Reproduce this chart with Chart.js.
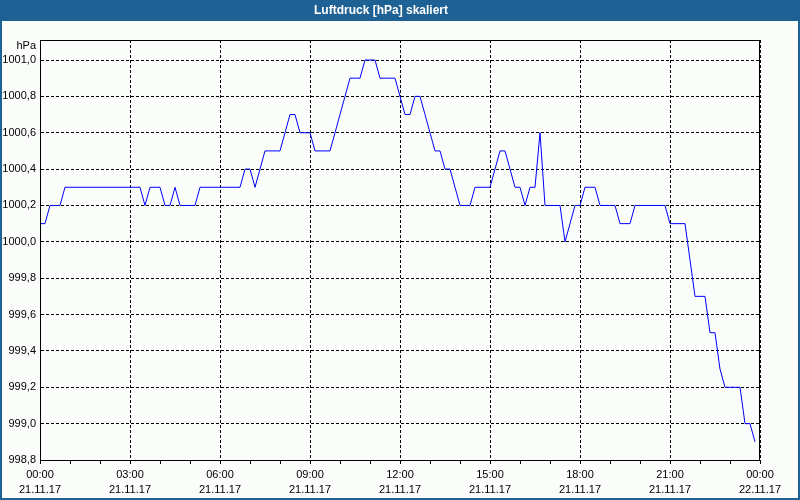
<!DOCTYPE html>
<html>
<head>
<meta charset="utf-8">
<title>Luftdruck [hPa] skaliert</title>
<script src="https://cdn.jsdelivr.net/npm/chart.js@4/dist/chart.umd.min.js"></script>
<style>
    html, body { margin: 0; padding: 0; background: #fff; }
    canvas { display: block; }
</style>
</head>
<body>
<canvas id="chart" width="800" height="500"></canvas>
<script>
// Luftdruck, one value every 10 minutes (00:00 .. 23:50), six per row = one hour
const pressure = [
    1000.1, 1000.1, 1000.2, 1000.2, 1000.2, 1000.3,
    1000.3, 1000.3, 1000.3, 1000.3, 1000.3, 1000.3,
    1000.3, 1000.3, 1000.3, 1000.3, 1000.3, 1000.3,
    1000.3, 1000.3, 1000.3, 1000.2, 1000.3, 1000.3,
    1000.3, 1000.2, 1000.2, 1000.3, 1000.2, 1000.2,
    1000.2, 1000.2, 1000.3, 1000.3, 1000.3, 1000.3,
    1000.3, 1000.3, 1000.3, 1000.3, 1000.3, 1000.4,
    1000.4, 1000.3, 1000.4, 1000.5, 1000.5, 1000.5,
    1000.5, 1000.6, 1000.7, 1000.7, 1000.6, 1000.6,
    1000.6, 1000.5, 1000.5, 1000.5, 1000.5, 1000.6,
    1000.7, 1000.8, 1000.9, 1000.9, 1000.9, 1001.0,
    1001.0, 1001.0, 1000.9, 1000.9, 1000.9, 1000.9,
    1000.8, 1000.7, 1000.7, 1000.8, 1000.8, 1000.7,
    1000.6, 1000.5, 1000.5, 1000.4, 1000.4, 1000.3,
    1000.2, 1000.2, 1000.2, 1000.3, 1000.3, 1000.3,
    1000.3, 1000.4, 1000.5, 1000.5, 1000.4, 1000.3,
    1000.3, 1000.2, 1000.3, 1000.3, 1000.6, 1000.2,
    1000.2, 1000.2, 1000.2, 1000.0, 1000.1, 1000.2,
    1000.2, 1000.3, 1000.3, 1000.3, 1000.2, 1000.2,
    1000.2, 1000.2, 1000.1, 1000.1, 1000.1, 1000.2,
    1000.2, 1000.2, 1000.2, 1000.2, 1000.2, 1000.2,
    1000.1, 1000.1, 1000.1, 1000.1, 999.9, 999.7,
    999.7, 999.7, 999.5, 999.5, 999.3, 999.2,
    999.2, 999.2, 999.2, 999.0, 999.0, 998.9
];
const samplesPerHour = 6;

// x axis labels, every 3 hours
const timeLabels = ['00:00', '03:00', '06:00', '09:00', '12:00', '15:00', '18:00', '21:00', '00:00'];
const dateLabels = ['21.11.17', '21.11.17', '21.11.17', '21.11.17', '21.11.17', '21.11.17', '21.11.17', '21.11.17', '22.11.17'];

// y axis ticks
const yTicks = [998.8, 999.0, 999.2, 999.4, 999.6, 999.8, 1000.0, 1000.2, 1000.4, 1000.6, 1000.8, 1001.0];
const yMin = 998.8;
const yMax = 1001.11;
const yUnit = 'hPa';

const points = pressure.map((v, i) => ({ x: i / samplesPerHour, y: v }));

// background, title band, frame and unit label
const framePlugin = {
    id: 'frame',
    beforeDraw(chart) {
        const ctx = chart.ctx;
        ctx.save();
        ctx.fillStyle = '#fafdfa';
        ctx.fillRect(0, 0, chart.width, chart.height);
        ctx.fillStyle = '#1e6295';
        ctx.fillRect(0, 0, chart.width, 21);
        ctx.fillRect(0, 0, 2, chart.height);
        ctx.fillRect(chart.width - 2, 0, 2, chart.height);
        ctx.fillRect(0, chart.height - 2, chart.width, 2);
        ctx.restore();
    },
    afterDraw(chart) {
        const ctx = chart.ctx;
        const a = chart.chartArea;
        ctx.save();
        ctx.strokeStyle = '#000';
        ctx.lineWidth = 1;
        ctx.strokeRect(Math.round(a.left) + 0.5, Math.round(a.top) + 0.5,
            Math.round(a.right - a.left) - 1, Math.round(a.bottom - a.top));
        ctx.fillStyle = '#000';
        ctx.font = '11px "Liberation Sans", Arial, sans-serif';
        ctx.textAlign = 'right';
        ctx.textBaseline = 'middle';
        ctx.fillText(yUnit, a.left - 4, a.top + 6);
        ctx.restore();
    }
};

const axisFont = { family: '"Liberation Sans", Arial, sans-serif', size: 11, lineHeight: 1.35 };

new Chart(document.getElementById('chart').getContext('2d'), {
    type: 'line',
    data: {
        datasets: [{
            label: 'Luftdruck',
            data: points,
            borderColor: '#0000ff',
            borderWidth: 1,
            pointRadius: 0,
            tension: 0,
            fill: false
        }]
    },
    options: {
        responsive: false,
        animation: false,
        layout: { padding: { left: 2, right: 40, top: 0, bottom: 2 } },
        plugins: {
            legend: { display: false },
            tooltip: { enabled: false },
            title: {
                display: true,
                text: 'Luftdruck [hPa] skaliert',
                color: '#ffffff',
                font: { family: '"Liberation Sans", Arial, sans-serif', size: 12, weight: 'bold', lineHeight: 1.2 },
                padding: { top: 3, bottom: 22.6 }
            }
        },
        scales: {
            x: {
                type: 'linear',
                min: 0,
                max: 24,
                ticks: {
                    stepSize: 1,
                    autoSkip: false,
                    maxRotation: 0,
                    padding: 4,
                    color: '#000',
                    font: axisFont,
                    callback: (value) => value % 3 === 0 ? [timeLabels[value / 3], dateLabels[value / 3]] : ''
                },
                grid: {
                    color: (c) => (c.tick && c.tick.value % 3 === 0) ? '#000' : 'rgba(0,0,0,0)',
                    tickColor: '#000',
                    tickLength: 4,
                    lineWidth: 1
                },
                border: { display: true, color: '#000', dash: [3, 2] },
                afterFit(scale) { scale.height = 38; }
            },
            y: {
                type: 'linear',
                min: yMin,
                max: yMax,
                afterBuildTicks(scale) { scale.ticks = yTicks.map(v => ({ value: v })); },
                ticks: {
                    padding: 4,
                    color: '#000',
                    font: axisFont,
                    callback: (value) => value.toFixed(1).replace('.', ',')
                },
                grid: { color: '#000', drawTicks: false, lineWidth: 1 },
                border: { display: true, color: '#000', dash: [3, 2] },
                afterFit(scale) { scale.width = 38; }
            }
        }
    },
    plugins: [framePlugin]
});
</script>
</body>
</html>
